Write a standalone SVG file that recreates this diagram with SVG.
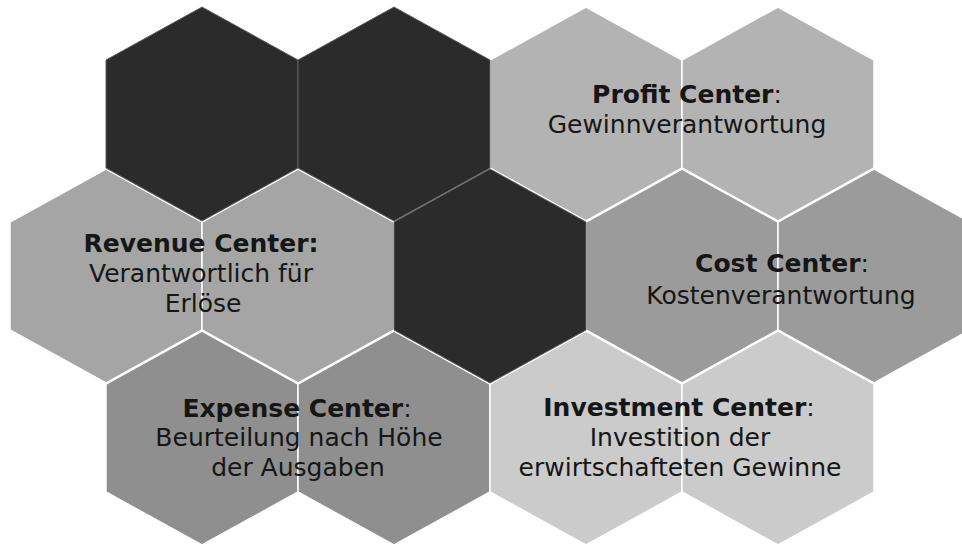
<svg xmlns="http://www.w3.org/2000/svg" width="962" height="548" viewBox="0 0 962 548">
<style>
.hex{stroke:#ffffff;stroke-width:1.5;stroke-linejoin:round}
.dark{fill:#2b2b2b;stroke:#5e5e5e;stroke-width:1}
.rev{fill:#a5a5a5}
.prof{fill:#b3b3b3}
.cost{fill:#9b9b9b}
.exp{fill:#8f8f8f}
.inv{fill:#cbcbcb}
text{font-family:"DejaVu Sans","Liberation Sans",sans-serif;font-size:25px;fill:#161616;text-anchor:middle}
.b{font-weight:bold}
</style>
<rect width="962" height="548" fill="#ffffff"/>
<g id="revenue-center">
<polygon class="hex rev" points="106,169 202,222 202,330 106,383 10,330 10,222"/>
<polygon class="hex rev" points="298,169 394,222 394,330 298,383 202,330 202,222"/>
<text x="201" y="252" class="b">Revenue Center:</text>
<text x="201" y="282">Verantwortlich für</text>
<text x="203" y="312">Erlöse</text>
</g>
<g id="profit-center">
<polygon class="hex prof" points="586,7 682,60 682,168 586,221 490,168 490,60"/>
<polygon class="hex prof" points="778,7 874,60 874,168 778,221 682,168 682,60"/>
<text x="687" y="103"><tspan class="b">Profit Center</tspan>:</text>
<text x="687" y="133">Gewinnverantwortung</text>
</g>
<g id="cost-center">
<polygon class="hex cost" points="682,169 778,222 778,330 682,383 586,330 586,222"/>
<polygon class="hex cost" points="874,169 970,222 970,330 874,383 778,330 778,222"/>
<text x="782" y="272"><tspan class="b">Cost Center</tspan>:</text>
<text x="781" y="304">Kostenverantwortung</text>
</g>
<g id="expense-center">
<polygon class="hex exp" points="202,331 298,384 298,492 202,545 106,492 106,384"/>
<polygon class="hex exp" points="394,331 490,384 490,492 394,545 298,492 298,384"/>
<text x="297" y="417"><tspan class="b">Expense Center</tspan>:</text>
<text x="299" y="446">Beurteilung nach Höhe</text>
<text x="298" y="476">der Ausgaben</text>
</g>
<g id="investment-center">
<polygon class="hex inv" points="586,331 682,384 682,492 586,545 490,492 490,384"/>
<polygon class="hex inv" points="778,331 874,384 874,492 778,545 682,492 682,384"/>
<text x="679" y="416"><tspan class="b">Investment Center</tspan>:</text>
<text x="680" y="446">Investition der</text>
<text x="680" y="476">erwirtschafteten Gewinne</text>
</g>
<g id="dark-hex-1"><polygon class="dark" points="202,7 298,60 298,168 202,221 106,168 106,60"/></g>
<g id="dark-hex-2"><polygon class="dark" points="394,7 490,60 490,168 394,221 298,168 298,60"/></g>
<g id="dark-hex-3"><polygon class="dark" points="490,169 586,222 586,330 490,383 394,330 394,222"/></g>
<g id="connectors"/>
</svg>
